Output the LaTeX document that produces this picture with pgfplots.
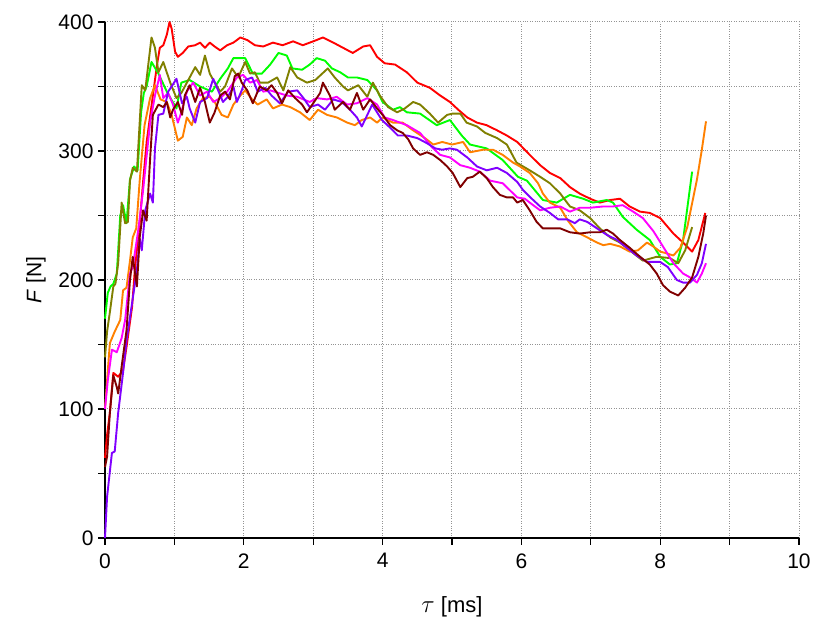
\documentclass[border=0pt]{standalone}
\usepackage{pgfplots}
\pgfplotsset{compat=1.18}
\usepackage{fontspec}
\setmainfont{Liberation Sans}
\definecolor{cred}{RGB}{255,0,0}
\definecolor{cgreen}{RGB}{0,255,0}
\definecolor{colive}{RGB}{128,128,0}
\definecolor{corange}{RGB}{255,128,0}
\definecolor{cmag}{RGB}{255,0,255}
\definecolor{cpurp}{RGB}{128,0,255}
\definecolor{cmaroon}{RGB}{128,0,0}
\begin{document}
\begin{tikzpicture}
\useasboundingbox (-105pt,-88pt) rectangle (710pt,538pt);
\begin{axis}[
  at={(0,0)}, anchor=south west,
  scale only axis, width=694pt, height=516pt,
  xmin=0, xmax=10, ymin=0, ymax=400,
  axis x line*=bottom, axis y line*=left,
  axis line style={line width=1.5pt, black},
  xtick={0,2,...,10}, minor xtick={1,3,...,9},
  ytick={0,100,...,400}, minor ytick={50,150,...,350},
  tick align=outside,
  major tick length=7pt, minor tick length=7pt,
  every tick/.style={black, line width=1.3pt},
  grid=both,
  major grid style={dotted, gray!85, line width=1pt},
  minor grid style={dotted, gray!85, line width=1pt},
  font=\fontsize{21}{25}\selectfont,
  /pgf/number format/assume math mode=true,
  ticklabel style={font=\fontsize{21}{25}\selectfont},
  xticklabel style={yshift=-5pt},
  yticklabel style={xshift=-1pt},
  xlabel={{\fontsize{24}{28}\selectfont$\tau$} [ms]}, ylabel={\textit{F} [N]},
  every axis x label/.style={at={(axis description cs:0.5,0)}, yshift=-69pt, anchor=center, font=\fontsize{22}{26}\selectfont},
  every axis y label/.style={at={(axis description cs:0,0.5)}, xshift=-69pt, rotate=90, anchor=center},
  every axis plot/.append style={line width=1.9pt, line join=round},
  clip=false,
]
\addplot[cred] coordinates {(0,62)(0.03,80)(0.07,97)(0.12,128)(0.19,125)(0.26,130)(0.31,148)(0.39,179)(0.43,208)(0.5,244)(0.55,277)(0.6,307)(0.69,343)(0.75,367)(0.79,380)(0.84,382)(0.89,390)(0.93,400)(0.96,395)(1.01,377)(1.05,373)(1.12,376)(1.2,381)(1.3,382)(1.37,384)(1.44,380)(1.51,384)(1.58,381)(1.66,378)(1.76,382)(1.85,384)(1.95,388)(2.05,386)(2.16,382)(2.28,381)(2.42,384)(2.56,382)(2.71,385)(2.85,382)(3.0,385)(3.14,388)(3.29,384)(3.43,380)(3.57,376)(3.72,381)(3.82,382)(3.92,373)(4.03,368)(4.18,367)(4.35,361)(4.5,353)(4.68,349)(4.83,343)(4.97,338)(5.09,332)(5.22,326)(5.36,322)(5.5,320)(5.65,316)(5.79,312)(5.94,307)(6.12,297)(6.27,289)(6.41,283)(6.56,279)(6.7,272)(6.84,267)(6.99,263)(7.13,260)(7.28,262)(7.42,263)(7.56,257)(7.71,253)(7.85,252)(8.0,248)(8.19,236)(8.33,229)(8.46,222)(8.55,231)(8.65,252)};
\addplot[cgreen] coordinates {(0,170)(0.04,190)(0.08,195)(0.12,197)(0.17,205)(0.22,250)(0.26,258)(0.31,244)(0.36,278)(0.42,288)(0.47,285)(0.52,330)(0.56,345)(0.6,350)(0.67,369)(0.77,360)(0.9,345)(1.03,333)(1.1,353)(1.22,355)(1.37,350)(1.54,346)(1.66,356)(1.77,364)(1.85,372)(1.92,372)(2.02,372)(2.13,360)(2.26,360)(2.38,367)(2.5,376)(2.62,374)(2.7,364)(2.84,363)(2.95,367)(3.05,372)(3.17,370)(3.27,364)(3.39,361)(3.5,357)(3.63,357)(3.78,355)(3.92,347)(4.0,338)(4.15,332)(4.25,334)(4.35,330)(4.54,329)(4.78,320)(4.97,324)(5.14,312)(5.26,305)(5.5,302)(5.73,293)(5.95,280)(6.08,277)(6.31,262)(6.51,260)(6.7,266)(6.89,263)(7.03,260)(7.23,262)(7.32,260)(7.46,249)(7.66,239)(7.85,231)(8.0,218)(8.14,212)(8.24,213)(8.33,231)(8.46,284)};
\addplot[colive] coordinates {(0,140)(0.03,160)(0.07,175)(0.12,195)(0.15,197)(0.19,213)(0.24,260)(0.29,244)(0.33,245)(0.36,277)(0.4,287)(0.46,284)(0.53,351)(0.58,347)(0.67,388)(0.72,380)(0.77,361)(0.84,369)(0.94,353)(1.03,341)(1.1,345)(1.18,353)(1.3,365)(1.37,359)(1.44,374)(1.51,360)(1.58,353)(1.66,346)(1.73,350)(1.83,364)(1.92,357)(2.02,369)(2.09,360)(2.16,361)(2.23,353)(2.35,353)(2.48,357)(2.57,347)(2.67,365)(2.77,357)(2.91,353)(3.03,355)(3.13,360)(3.21,364)(3.31,357)(3.43,350)(3.5,347)(3.65,351)(3.78,342)(3.86,353)(3.96,343)(4.08,334)(4.21,330)(4.32,333)(4.44,338)(4.54,336)(4.68,329)(4.8,322)(4.93,328)(5.01,329)(5.12,329)(5.21,322)(5.36,319)(5.48,314)(5.65,310)(5.79,305)(5.93,291)(6.12,285)(6.27,280)(6.41,275)(6.56,267)(6.7,257)(6.84,254)(6.99,248)(7.13,240)(7.28,233)(7.42,229)(7.56,223)(7.75,215)(7.95,218)(8.14,217)(8.26,213)(8.36,223)(8.46,241)};
\addplot[corange] coordinates {(0,100)(0.03,122)(0.07,151)(0.14,160)(0.22,169)(0.26,192)(0.31,194)(0.36,215)(0.4,233)(0.45,240)(0.5,277)(0.57,320)(0.65,341)(0.72,351)(0.8,340)(0.89,338)(0.96,328)(1.05,308)(1.12,311)(1.18,326)(1.25,320)(1.32,333)(1.41,341)(1.51,342)(1.58,338)(1.68,328)(1.77,326)(1.85,336)(1.95,343)(2.02,347)(2.12,340)(2.2,336)(2.33,340)(2.42,333)(2.55,336)(2.67,334)(2.81,330)(2.95,324)(3.07,332)(3.2,328)(3.34,326)(3.49,322)(3.6,320)(3.7,324)(3.82,326)(3.92,322)(4.0,326)(4.15,322)(4.29,322)(4.44,316)(4.61,310)(4.73,305)(4.86,307)(5.0,305)(5.16,307)(5.26,299)(5.45,301)(5.59,301)(5.73,297)(5.88,291)(5.98,288)(6.12,283)(6.24,275)(6.31,267)(6.41,260)(6.56,256)(6.67,246)(6.8,237)(6.95,233)(7.09,229)(7.18,227)(7.28,228)(7.42,226)(7.56,222)(7.68,223)(7.81,229)(7.9,226)(8.0,222)(8.07,221)(8.19,219)(8.29,225)(8.39,241)(8.53,278)(8.6,301)(8.66,323)};
\addplot[cmag] coordinates {(0,100)(0.04,122)(0.1,146)(0.17,144)(0.24,155)(0.29,169)(0.36,205)(0.4,210)(0.48,239)(0.55,270)(0.65,322)(0.72,343)(0.79,359)(0.84,341)(0.91,345)(0.98,336)(1.05,322)(1.1,330)(1.18,346)(1.27,353)(1.37,343)(1.47,346)(1.56,338)(1.66,341)(1.76,346)(1.85,353)(1.9,357)(1.99,359)(2.09,353)(2.19,355)(2.28,346)(2.38,347)(2.5,345)(2.62,343)(2.77,342)(2.86,340)(2.95,338)(3.05,341)(3.2,340)(3.34,342)(3.49,336)(3.63,337)(3.78,341)(3.92,336)(4.03,326)(4.15,324)(4.35,320)(4.54,314)(4.71,303)(4.83,297)(4.97,295)(5.12,289)(5.26,287)(5.4,284)(5.55,277)(5.73,275)(5.94,264)(6.05,263)(6.12,260)(6.27,254)(6.41,256)(6.56,257)(6.7,253)(6.84,256)(6.99,256)(7.18,257)(7.32,257)(7.46,258)(7.61,253)(7.75,248)(7.9,238)(8.04,226)(8.19,213)(8.33,205)(8.43,202)(8.53,198)(8.6,205)(8.66,213)};
\addplot[cpurp] coordinates {(0,0)(0.03,32)(0.1,66)(0.14,67)(0.19,97)(0.26,128)(0.31,153)(0.39,182)(0.46,208)(0.5,232)(0.53,223)(0.58,254)(0.65,267)(0.69,260)(0.72,302)(0.77,328)(0.84,329)(0.91,346)(0.96,350)(1.03,356)(1.11,337)(1.18,342)(1.22,333)(1.3,322)(1.37,338)(1.47,341)(1.56,356)(1.63,347)(1.7,338)(1.77,342)(1.85,350)(1.9,338)(1.97,347)(2.02,355)(2.12,357)(2.2,346)(2.31,349)(2.4,343)(2.52,337)(2.64,346)(2.77,347)(2.86,341)(2.95,334)(3.07,336)(3.17,332)(3.29,340)(3.41,338)(3.53,332)(3.63,326)(3.7,319)(3.78,328)(3.85,336)(3.92,330)(3.99,324)(4.11,318)(4.22,312)(4.35,312)(4.5,310)(4.64,306)(4.76,302)(4.86,301)(4.97,302)(5.07,301)(5.22,295)(5.36,288)(5.5,285)(5.65,287)(5.79,283)(5.94,276)(6.02,270)(6.15,263)(6.27,257)(6.41,252)(6.53,247)(6.66,247)(6.77,244)(6.84,247)(6.95,245)(7.09,240)(7.23,235)(7.38,231)(7.52,225)(7.66,219)(7.81,214)(8.0,214)(8.11,210)(8.24,200)(8.33,198)(8.43,198)(8.53,204)(8.6,213)(8.66,228)};
\addplot[cmaroon] coordinates {(0,55)(0.03,63)(0.07,97)(0.12,126)(0.17,117)(0.19,112)(0.24,133)(0.31,161)(0.36,200)(0.4,218)(0.46,195)(0.5,233)(0.55,254)(0.6,246)(0.65,294)(0.69,328)(0.77,336)(0.84,334)(0.89,338)(0.94,326)(0.98,332)(1.05,338)(1.11,328)(1.15,343)(1.22,351)(1.3,338)(1.37,349)(1.44,338)(1.51,322)(1.58,330)(1.66,343)(1.73,346)(1.8,340)(1.87,358)(1.92,360)(1.97,353)(2.05,347)(2.13,337)(2.23,350)(2.33,347)(2.4,351)(2.48,345)(2.55,337)(2.64,347)(2.74,341)(2.84,336)(2.91,330)(3.0,337)(3.1,345)(3.14,353)(3.24,343)(3.31,332)(3.43,338)(3.53,332)(3.63,345)(3.72,332)(3.82,340)(3.92,333)(4.0,328)(4.11,320)(4.21,316)(4.29,314)(4.37,309)(4.44,302)(4.54,297)(4.64,299)(4.73,297)(4.83,293)(4.93,288)(5.01,283)(5.12,272)(5.22,279)(5.3,280)(5.4,284)(5.5,279)(5.59,272)(5.69,266)(5.79,264)(5.88,264)(5.94,260)(6.02,262)(6.12,254)(6.22,245)(6.31,240)(6.41,240)(6.56,240)(6.7,237)(6.84,236)(6.99,237)(7.13,237)(7.23,239)(7.32,236)(7.42,231)(7.56,225)(7.71,218)(7.85,212)(7.95,205)(8.04,196)(8.14,191)(8.26,188)(8.36,194)(8.46,202)(8.55,218)(8.62,236)(8.66,250)};
\end{axis}
\end{tikzpicture}
\end{document}
